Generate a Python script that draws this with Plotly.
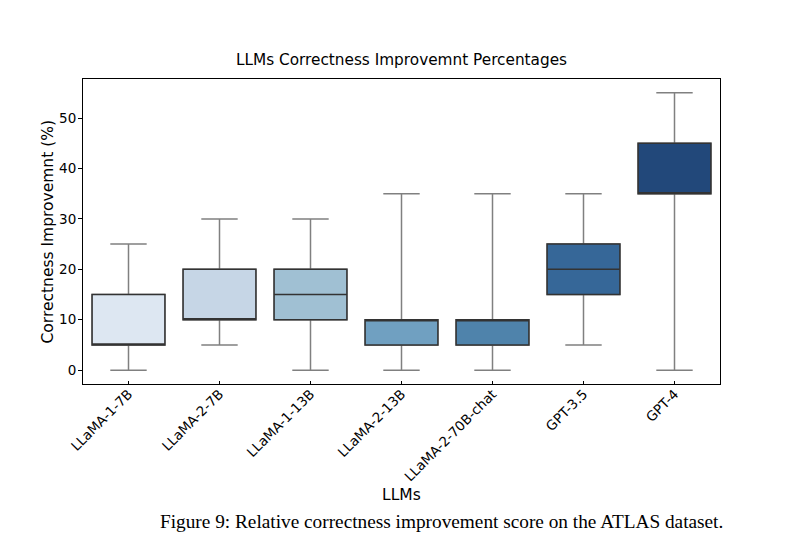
import plotly.graph_objects as go

# box statistics
models = ["LLaMA-1-7B", "LLaMA-2-7B", "LLaMA-1-13B", "LLaMA-2-13B",
          "LLaMA-2-70B-chat", "GPT-3.5", "GPT-4"]
lower = [0, 5, 0, 0, 0, 5, 0]
q1 = [5, 10, 10, 5, 5, 15, 35]
median = [5, 10, 15, 10, 10, 20, 35]
q3 = [15, 20, 20, 10, 10, 25, 45]
upper = [25, 30, 30, 35, 35, 35, 55]

colors = ["#dde7f2", "#c6d6e6", "#a0c0d3", "#70a0c1",
          "#4f83ab", "#366798", "#22487a"]

fig = go.Figure()

for i, m in enumerate(models):
    # whiskers (grey), drawn underneath
    fig.add_trace(go.Box(
        x=[m], q1=[q1[i]], median=[median[i]], q3=[q3[i]],
        lowerfence=[lower[i]], upperfence=[upper[i]],
        fillcolor=colors[i], line=dict(color="#808080", width=1.5),
        width=0.8, whiskerwidth=0.5, showlegend=False, hoverinfo="skip",
    ))
    # box body with dark edges on top
    fig.add_trace(go.Box(
        x=[m], q1=[q1[i]], median=[median[i]], q3=[q3[i]],
        lowerfence=[q1[i]], upperfence=[q3[i]],
        fillcolor=colors[i], line=dict(color="#333333", width=1.5),
        width=0.8, whiskerwidth=0, showlegend=False,
    ))

# plot area in figure pixels: x 75..712, y 71..376
pw, ph = 637, 305

fig.update_layout(
    width=790, height=555,
    margin=dict(l=75, r=78, t=71, b=179),
    paper_bgcolor="white", plot_bgcolor="white",
    boxmode="overlay",
    font=dict(family="DejaVu Sans", color="black"),
    title=dict(text="LLMs Correctness Improvemnt Percentages",
               x=0.5, xref="paper", xanchor="center",
               y=1 - 52 / 555, yanchor="middle",
               font=dict(size=15.3)),
    xaxis=dict(
        range=[-0.5, 6.5], tickangle=-45, tickfont=dict(size=13.5),
        ticklabelstandoff=-4,
        showline=True, mirror=True, linecolor="black", linewidth=1,
        ticks="inside", ticklen=3, tickcolor="black", showgrid=False,
    ),
    yaxis=dict(
        range=[-2.75, 57.75], tickvals=[0, 10, 20, 30, 40, 50],
        tickfont=dict(size=13.5), ticklabelstandoff=-1,
        showline=True, mirror=True, linecolor="black", linewidth=1,
        ticks="outside", ticklen=4, tickcolor="black",
        showgrid=False, zeroline=False,
    ),
    annotations=[
        dict(text="LLMs", xref="paper", yref="paper", x=0.5, xanchor="center",
             y=-(487 - 376) / ph, yanchor="middle", showarrow=False,
             font=dict(size=15.5)),
        dict(text="Correctness Improvemnt (%)", xref="paper", yref="paper",
             x=(39 - 75) / pw, xanchor="center", y=0.5, yanchor="middle",
             textangle=-90, showarrow=False, font=dict(size=15.5)),
        dict(text="Figure 9: Relative correctness improvement score on the ATLAS dataset.",
             xref="paper", yref="paper", x=(150 - 75) / pw, xanchor="left",
             y=-(513 - 376) / ph, yanchor="middle", showarrow=False,
             font=dict(family="Liberation Serif", size=19.3, color="black")),
    ],
)

fig.write_html("out.html")
